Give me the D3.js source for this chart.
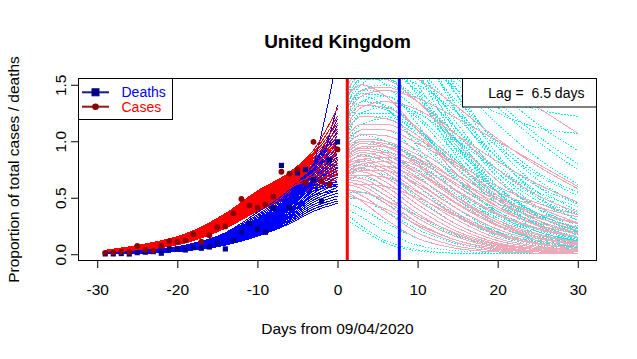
<!DOCTYPE html>
<html><head><meta charset="utf-8">
<script src="https://cdn.jsdelivr.net/npm/d3@7"></script>
<style>
body{margin:0;background:#fff}
text{font-family:"Liberation Sans",Arial,Helvetica,sans-serif;fill:#000}
</style></head>
<body><svg id="c" width="637" height="359"></svg>
<script>
// ---------- data ----------
const pointDays = [-29,-28,-27,-26,-25,-24,-23,-22,-21,-20,-19,-18,-17,-16,-15,-14,-13,-12,-11,-10,-9,-8,-7,-6,-5,-4,-3,-2,-1,0];
const deathsObs = [0.003,0.003,0.006,0.002,0.014,0.018,0.023,0.009,0.047,0.047,0.038,0.058,0.053,0.064,0.097,0.047,0.124,0.197,0.274,0.22,0.194,0.406,0.786,0.415,0.72,0.75,0.66,0.47,0.833,0.995];
const casesObs  = [0.012,0.015,0.023,0.02,0.073,0.04,0.03,0.073,0.116,0.11,0.122,0.177,0.111,0.167,0.239,0.246,0.362,0.489,0.431,0.412,0.442,0.509,0.73,0.714,0.751,0.633,0.995,0.643,0.617,0.928];

// fitted curves over the past (values at fitDays)
const fitDays = [-29,-24,-19,-14,-10,-6,-3,0];
const deathFits = [
 [0.002,0.010,0.035,0.080,0.160,0.270,0.380,0.450],
 [0.003,0.011,0.037,0.084,0.167,0.282,0.400,0.470],
 [0.003,0.012,0.039,0.088,0.174,0.294,0.420,0.490],
 [0.004,0.013,0.041,0.092,0.181,0.306,0.440,0.515],
 [0.004,0.014,0.043,0.096,0.188,0.318,0.460,0.540],
 [0.005,0.015,0.045,0.100,0.195,0.330,0.480,0.565],
 [0.005,0.016,0.047,0.104,0.202,0.342,0.500,0.590],
 [0.006,0.017,0.049,0.108,0.209,0.354,0.520,0.620],
 [0.006,0.018,0.051,0.112,0.216,0.366,0.540,0.650],
 [0.007,0.019,0.053,0.116,0.223,0.378,0.560,0.680],
 [0.007,0.020,0.055,0.120,0.230,0.390,0.580,0.710],
 [0.008,0.021,0.057,0.124,0.237,0.402,0.600,0.740],
 [0.008,0.022,0.059,0.128,0.244,0.414,0.620,0.770],
 [0.009,0.023,0.061,0.132,0.251,0.426,0.638,0.800],
 [0.009,0.024,0.063,0.136,0.258,0.438,0.656,0.830],
 [0.010,0.025,0.065,0.140,0.266,0.450,0.672,0.860],
 [0.010,0.026,0.067,0.145,0.274,0.462,0.688,0.890],
 [0.011,0.027,0.069,0.150,0.282,0.474,0.704,0.920],
 [0.011,0.028,0.071,0.155,0.290,0.486,0.720,0.950],
 [0.012,0.029,0.073,0.160,0.300,0.498,0.736,0.980],
 [0.012,0.030,0.075,0.166,0.310,0.510,0.750,1.010],
 [0.013,0.031,0.076,0.172,0.322,0.524,0.764,1.050],
 [0.014,0.032,0.077,0.178,0.336,0.538,0.778,1.090],
 [0.014,0.033,0.078,0.184,0.350,0.552,0.790,1.140],
 [0.015,0.035,0.080,0.190,0.370,0.570,0.800,1.200],
 [0.004,0.012,0.035,0.085,0.170,0.330,0.600,1.320],
 [0.002,0.008,0.030,0.080,0.170,0.360,0.790,1.750],
 [0.006,0.016,0.045,0.105,0.215,0.390,0.560,0.600],
 [0.008,0.020,0.052,0.118,0.240,0.430,0.580,0.620],
 [0.010,0.024,0.060,0.135,0.270,0.470,0.610,0.640],
 [0.005,0.014,0.042,0.098,0.200,0.360,0.520,0.560],
 [0.007,0.018,0.050,0.112,0.230,0.420,0.640,0.760]
];
const caseFits = [
 [0.010,0.040,0.100,0.230,0.380,0.500,0.580,0.620],
 [0.011,0.042,0.104,0.236,0.388,0.510,0.592,0.640],
 [0.012,0.044,0.108,0.242,0.396,0.520,0.604,0.660],
 [0.013,0.046,0.112,0.248,0.404,0.530,0.616,0.680],
 [0.014,0.048,0.115,0.254,0.412,0.540,0.628,0.700],
 [0.015,0.050,0.118,0.260,0.420,0.550,0.640,0.715],
 [0.016,0.052,0.121,0.265,0.428,0.560,0.652,0.730],
 [0.017,0.054,0.124,0.270,0.436,0.570,0.664,0.745],
 [0.018,0.056,0.127,0.275,0.443,0.580,0.676,0.760],
 [0.019,0.058,0.130,0.280,0.450,0.590,0.688,0.775],
 [0.020,0.060,0.133,0.285,0.457,0.600,0.700,0.790],
 [0.021,0.062,0.136,0.290,0.464,0.610,0.712,0.805],
 [0.022,0.064,0.139,0.295,0.471,0.620,0.724,0.820],
 [0.023,0.066,0.142,0.300,0.478,0.628,0.736,0.840],
 [0.024,0.068,0.145,0.305,0.485,0.636,0.748,0.860],
 [0.025,0.070,0.148,0.310,0.492,0.644,0.760,0.880],
 [0.026,0.072,0.151,0.315,0.499,0.652,0.772,0.900],
 [0.027,0.074,0.154,0.320,0.506,0.660,0.784,0.920],
 [0.028,0.076,0.157,0.325,0.513,0.668,0.796,0.940],
 [0.029,0.078,0.160,0.330,0.520,0.676,0.808,0.960],
 [0.030,0.080,0.163,0.335,0.527,0.684,0.820,0.985],
 [0.031,0.082,0.166,0.340,0.534,0.692,0.832,1.010],
 [0.032,0.084,0.169,0.345,0.541,0.700,0.845,1.040],
 [0.033,0.086,0.172,0.350,0.548,0.708,0.858,1.070],
 [0.034,0.088,0.175,0.355,0.554,0.714,0.872,1.110],
 [0.035,0.090,0.178,0.360,0.560,0.720,0.886,1.160],
 [0.035,0.090,0.180,0.360,0.560,0.722,0.900,1.220],
 [0.034,0.089,0.179,0.358,0.556,0.725,0.920,1.290],
 [0.015,0.048,0.115,0.255,0.420,0.580,0.720,0.900],
 [0.018,0.052,0.122,0.268,0.440,0.610,0.770,1.000],
 [0.025,0.070,0.150,0.300,0.460,0.590,0.660,0.700],
 [0.028,0.075,0.158,0.315,0.480,0.610,0.690,0.740]
];

// projected curves (values at projDays)
const projDays = [1.2,3,6,10,15,20,25,30];
const deathProj = [
 [1.90,2.10,2.10,1.90,1.55,1.38,1.28,1.22],
 [1.70,1.90,1.95,1.80,1.45,1.25,1.12,1.07],
 [1.75,2.00,2.10,2.00,1.70,1.35,1.05,0.80],
 [1.60,1.80,1.90,1.80,1.50,1.15,0.85,0.62],
 [1.85,2.05,2.15,2.05,1.75,1.45,1.15,0.92],
 [1.55,1.75,1.85,1.80,1.60,1.30,1.00,0.75],
 [1.50,1.75,1.85,1.70,1.35,1.00,0.72,0.55],
 [1.40,1.65,1.70,1.55,1.20,0.85,0.60,0.45],
 [1.30,1.55,1.60,1.45,1.10,0.75,0.50,0.35],
 [1.80,2.00,1.90,1.50,0.95,0.55,0.30,0.17],
 [2.00,2.30,2.20,1.70,1.05,0.60,0.35,0.20],
 [1.90,2.20,2.30,2.00,1.45,0.95,0.60,0.38],
 [1.60,1.85,1.80,1.45,0.90,0.50,0.26,0.13],
 [2.20,2.50,2.40,1.90,1.25,0.80,0.50,0.30],
 [1.35,1.50,1.60,1.50,1.25,0.95,0.70,0.52],
 [1.70,1.95,1.95,1.65,1.15,0.72,0.42,0.25],
 [2.10,2.40,2.35,2.00,1.40,0.88,0.52,0.30],
 [1.55,1.80,1.75,1.40,0.85,0.45,0.22,0.11],
 [1.95,2.15,2.05,1.60,1.00,0.55,0.28,0.14],
 [1.65,1.90,2.00,1.85,1.40,0.98,0.66,0.44],
 [2.05,2.25,2.20,1.85,1.30,0.85,0.55,0.35],
 [1.75,1.95,1.90,1.60,1.10,0.68,0.40,0.23],
 [1.50,1.70,1.68,1.42,0.98,0.60,0.34,0.19],
 [1.40,1.55,1.55,1.38,1.05,0.72,0.47,0.30],
 [1.28,1.45,1.45,1.28,0.92,0.58,0.34,0.20],
 [1.62,1.82,1.85,1.65,1.25,0.85,0.55,0.35],
 [1.22,1.35,1.32,1.12,0.76,0.45,0.25,0.13],
 [1.12,1.25,1.25,1.10,0.82,0.56,0.36,0.23],
 [1.20,1.45,1.50,1.35,1.00,0.65,0.40,0.27],
 [1.10,1.35,1.40,1.22,0.88,0.55,0.33,0.20],
 [1.05,1.25,1.30,1.10,0.75,0.45,0.27,0.15],
 [1.00,1.15,1.20,1.00,0.65,0.38,0.20,0.12],
 [1.45,1.60,1.50,1.15,0.68,0.36,0.18,0.09],
 [1.25,1.40,1.30,0.95,0.52,0.26,0.12,0.06],
 [1.15,1.30,1.35,1.25,1.00,0.75,0.55,0.42],
 [1.30,1.42,1.40,1.20,0.82,0.48,0.26,0.14],
 [1.18,1.32,1.28,1.05,0.66,0.36,0.18,0.09],
 [1.38,1.55,1.55,1.35,0.95,0.60,0.36,0.22],
 [1.08,1.22,1.22,1.08,0.78,0.50,0.30,0.18],
 [0.95,1.10,1.10,0.90,0.55,0.30,0.16,0.09],
 [0.90,1.02,1.00,0.80,0.48,0.25,0.13,0.07],
 [0.85,0.95,0.92,0.70,0.40,0.20,0.10,0.05],
 [0.80,0.88,0.82,0.60,0.33,0.16,0.08,0.04],
 [0.75,0.80,0.72,0.50,0.26,0.12,0.06,0.03],
 [0.70,0.75,0.70,0.55,0.35,0.20,0.11,0.06],
 [0.65,0.68,0.60,0.40,0.20,0.09,0.04,0.02],
 [0.60,0.62,0.52,0.34,0.16,0.07,0.03,0.02],
 [0.55,0.55,0.45,0.28,0.12,0.05,0.03,0.02],
 [0.50,0.48,0.38,0.22,0.09,0.04,0.02,0.01],
 [0.45,0.40,0.28,0.14,0.05,0.02,0.01,0.01],
 [0.35,0.25,0.12,0.04,0.01,0.01,0.01,0.01],
 [0.40,0.33,0.20,0.08,0.03,0.01,0.01,0.01],
 [0.30,0.22,0.10,0.03,0.01,0.01,0.01,0.01],
 [0.98,1.05,1.00,0.82,0.55,0.34,0.20,0.12],
 [0.88,0.98,0.98,0.85,0.60,0.38,0.22,0.13],
 [0.72,0.82,0.85,0.75,0.52,0.32,0.18,0.10]
];
const caseProj = [
 [1.00,1.10,1.10,0.98,0.78,0.55,0.42,0.33],
 [0.95,1.02,1.00,0.88,0.65,0.45,0.32,0.24],
 [0.90,0.98,0.95,0.80,0.55,0.35,0.22,0.15],
 [0.85,0.92,0.88,0.72,0.48,0.28,0.17,0.10],
 [0.82,0.87,0.82,0.64,0.40,0.22,0.12,0.07],
 [0.78,0.82,0.75,0.56,0.33,0.17,0.09,0.05],
 [0.74,0.76,0.68,0.48,0.26,0.12,0.06,0.03],
 [0.70,0.70,0.60,0.40,0.20,0.09,0.04,0.02],
 [0.66,0.64,0.52,0.32,0.15,0.06,0.03,0.02],
 [0.62,0.58,0.45,0.25,0.10,0.04,0.02,0.01],
 [0.58,0.52,0.38,0.19,0.07,0.03,0.01,0.01],
 [0.55,0.47,0.31,0.14,0.05,0.02,0.01,0.01],
 [0.88,0.95,0.95,0.85,0.65,0.48,0.36,0.28],
 [0.80,0.88,0.90,0.82,0.62,0.42,0.28,0.19],
 [0.72,0.80,0.82,0.72,0.50,0.30,0.18,0.11],
 [0.68,0.74,0.74,0.62,0.40,0.22,0.12,0.07],
 [1.10,1.22,1.20,1.05,0.75,0.48,0.30,0.19],
 [1.60,1.80,1.90,1.85,1.70,1.52,1.30,1.07],
 [1.25,1.40,1.45,1.38,1.20,1.00,0.80,0.60],
 [1.15,1.30,1.35,1.28,1.05,0.82,0.62,0.46],
 [0.60,0.62,0.60,0.50,0.33,0.18,0.09,0.05],
 [0.92,1.00,0.96,0.78,0.50,0.28,0.15,0.08],
 [1.40,1.50,1.40,1.10,0.70,0.42,0.25,0.15],
 [0.97,1.06,1.05,0.92,0.70,0.50,0.36,0.27],
 [0.93,1.00,0.98,0.84,0.60,0.40,0.26,0.18],
 [0.87,0.94,0.90,0.74,0.50,0.30,0.18,0.11],
 [0.84,0.90,0.85,0.68,0.44,0.25,0.14,0.08],
 [0.80,0.84,0.78,0.60,0.36,0.19,0.10,0.05],
 [0.76,0.79,0.72,0.52,0.30,0.14,0.07,0.04],
 [0.72,0.73,0.64,0.44,0.23,0.10,0.05,0.03],
 [0.68,0.67,0.56,0.36,0.17,0.07,0.03,0.02],
 [0.64,0.61,0.48,0.28,0.12,0.05,0.02,0.01],
 [0.76,0.84,0.86,0.78,0.56,0.36,0.23,0.15],
 [0.70,0.77,0.78,0.67,0.45,0.26,0.15,0.09],
 [0.65,0.70,0.68,0.55,0.34,0.18,0.09,0.05],
 [1.05,1.15,1.15,1.02,0.80,0.60,0.45,0.35],
 [1.20,1.32,1.30,1.12,0.80,0.52,0.33,0.21],
 [1.30,1.45,1.48,1.35,1.05,0.75,0.52,0.37],
 [1.45,1.58,1.55,1.35,0.98,0.65,0.42,0.28],
 [1.50,1.62,1.65,1.55,1.30,1.02,0.78,0.58],
 [0.57,0.55,0.48,0.34,0.18,0.08,0.04,0.02],
 [0.52,0.48,0.40,0.26,0.12,0.05,0.02,0.01]
];

const xTicks = [-30,-20,-10,0,10,20,30];
const yTicks = [0,0.5,1,1.5];
const casePeakDay = 1.22, deathPeakDay = 7.72;
const lagText = "Lag =  6.5 days";
const legendLabels = ["Deaths","Cases"];

// ---------- drawing ----------
const svg = d3.select("#c");
const box = {l:78, r:597, t:78, b:261};
const x = d3.scaleLinear().domain([-32.4,32.4]).range([box.l,box.r]);
const y = d3.scaleLinear().domain([-0.06,1.56]).range([box.b,box.t]);

svg.append("defs").append("clipPath").attr("id","clip")
  .append("rect").attr("x",box.l).attr("y",box.t).attr("width",box.r-box.l).attr("height",box.b-box.t);

const plot = svg.append("g").attr("clip-path","url(#clip)");
const line = d3.line().curve(d3.curveMonotoneX);

function curve(g, days, vals, col, dash){
  const p = g.append("path")
    .attr("d", line(days.map((d,j)=>[x(d),y(vals[j])])))
    .attr("fill","none").attr("stroke",col).attr("stroke-width",1)
    .attr("shape-rendering","crispEdges");
  if (dash) p.attr("stroke-dasharray",dash);
}

// past fits, interleaved
const nPast = Math.max(deathFits.length, caseFits.length);
for (let i=0;i<nPast;i++){
  if (deathFits[i]) curve(plot, fitDays, deathFits[i], "#0000FF");
  if (caseFits[i]) curve(plot, fitDays, caseFits[i], "#FF0000");
}
// projections: deaths (dotted cyan) then cases (pink)
deathProj.forEach(v=>curve(plot, projDays, v, "#00F0F0", "1.5,1.5"));
caseProj.forEach(v=>curve(plot, projDays, v, "#EEA9B8"));

// observed points
plot.selectAll("rect.dp").data(pointDays).enter().append("rect")
  .attr("x",(d,i)=>x(d)-2.6).attr("y",(d,i)=>y(deathsObs[i])-2.6)
  .attr("width",5.2).attr("height",5.2).attr("fill","#00008B");
plot.selectAll("circle.cp").data(pointDays).enter().append("circle")
  .attr("cx",d=>x(d)).attr("cy",(d,i)=>y(casesObs[i])).attr("r",2.9).attr("fill","#8B0000");

// vertical lines
plot.append("line").attr("x1",x(casePeakDay)).attr("x2",x(casePeakDay)).attr("y1",box.t).attr("y2",box.b)
  .attr("stroke","#FF0000").attr("stroke-width",3);
plot.append("line").attr("x1",x(deathPeakDay)).attr("x2",x(deathPeakDay)).attr("y1",box.t).attr("y2",box.b)
  .attr("stroke","#0000FF").attr("stroke-width",3);

// axes
const FF = '"Liberation Sans",Arial,sans-serif';
const xa = svg.append("g").attr("transform",`translate(0,${box.b})`)
  .call(d3.axisBottom(x).tickValues(xTicks).tickSize(7).tickSizeOuter(0).tickFormat(d=>String(d)));
xa.select(".domain").remove();
xa.selectAll("text").attr("y",34).attr("dy",0).style("font-size","15.5px").style("font-family",FF);
xa.selectAll("line").attr("stroke","#000");

const ya = svg.append("g").attr("transform",`translate(${box.l},0)`)
  .call(d3.axisLeft(y).tickValues(yTicks).tickSize(7).tickSizeOuter(0).tickFormat(d3.format(".1f")));
ya.select(".domain").remove();
ya.selectAll("text").attr("transform","rotate(-90)").attr("x",0).attr("y",-12).attr("dy",0)
  .attr("text-anchor","middle").style("font-size","15.5px").style("font-family",FF);
ya.selectAll("line").attr("stroke","#000");

// box
svg.append("rect").attr("x",box.l+0.5).attr("y",box.t+0.5).attr("width",box.r-box.l-1).attr("height",box.b-box.t-1)
  .attr("fill","none").attr("stroke","#000").attr("stroke-width",1);

// titles
svg.append("text").attr("x",337.5).attr("y",48).attr("text-anchor","middle")
  .style("font-size","19px").style("font-weight","bold").text("United Kingdom");
svg.append("text").attr("x",337.5).attr("y",333.5).attr("text-anchor","middle")
  .style("font-size","15.5px").text("Days from 09/04/2020");
svg.append("text").attr("transform",`translate(19,${(box.t+box.b)/2}) rotate(-90)`).attr("text-anchor","middle")
  .style("font-size","15.5px").text("Proportion of total cases / deaths");

// legend
const lg = svg.append("g");
lg.append("rect").attr("x",box.l+0.5).attr("y",box.t+0.5).attr("width",94).attr("height",41)
  .attr("fill","#fff").attr("stroke","#000").attr("stroke-width",1);
const rowsY = [92.3,106.7];
const lineCols = ["#1a1a8c","#8b1a1a"], txtCols = ["#0000FF","#FF0000"];
legendLabels.forEach((lab,i)=>{
  lg.append("line").attr("x1",82).attr("x2",109).attr("y1",rowsY[i]).attr("y2",rowsY[i])
    .attr("stroke",lineCols[i]).attr("stroke-width",2);
  if (i===0) lg.append("rect").attr("x",95.5-3.5).attr("y",rowsY[i]-3.5).attr("width",7).attr("height",7)
    .attr("fill","#00008B").attr("stroke","#00008B");
  else lg.append("circle").attr("cx",95.5).attr("cy",rowsY[i]).attr("r",3.3).attr("fill","#8B0000");
  lg.append("text").attr("x",121.5).attr("y",rowsY[i]+5).style("font-size","14px").style("fill",txtCols[i]).text(lab);
});

// lag box
svg.append("rect").attr("x",462.5).attr("y",box.t+0.5).attr("width",box.r-462.5-0.5).attr("height",28.5)
  .attr("fill","#fff").attr("stroke","#000").attr("stroke-width",1);
svg.append("text").attr("x",488.3).attr("y",98.3).style("font-size","14px").style("white-space","pre").text(lagText);
</script></body></html>
